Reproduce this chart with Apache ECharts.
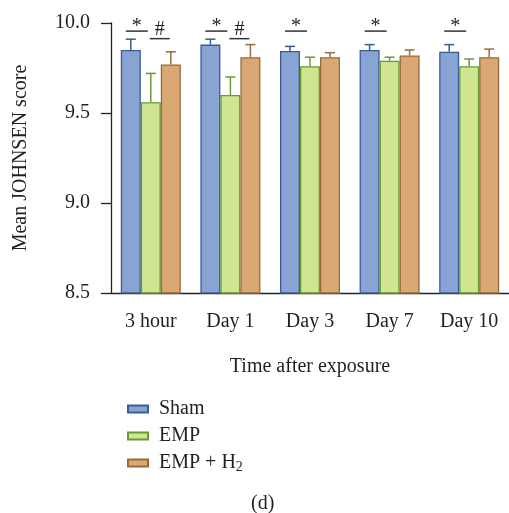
<!DOCTYPE html>
<html>
<head>
<meta charset="utf-8">
<script src="https://cdn.jsdelivr.net/npm/echarts@6/dist/echarts.min.js"></script>
<style>
  html, body { margin: 0; padding: 0; background: #fff; }
  #chart { width: 509px; height: 513px; }
</style>
</head>
<body>
<div id="chart"></div>
<script>
// 时间点
var categories = ["3 hour", "Day 1", "Day 3", "Day 7", "Day 10"];
// 均值
var shamMean = [9.85, 9.88, 9.845, 9.85, 9.84];
var empMean = [9.56, 9.60, 9.76, 9.79, 9.76];
var h2Mean = [9.77, 9.81, 9.81, 9.82, 9.81];
// 误差
var shamErr = [0.06, 0.03, 0.025, 0.03, 0.04];
var empErr = [0.16, 0.10, 0.05, 0.02, 0.04];
var h2Err = [0.07, 0.07, 0.025, 0.03, 0.045];
// 显著性标记
var starCats = ["3 hour", "Day 1", "Day 3", "Day 7", "Day 10"];
var hashCats = ["3 hour", "Day 1"];
var starLevel = 9.955;
var hashLevel = 9.913;
// 纵轴刻度
var yMin = 8.5, yMax = 10.0, yStep = 0.5;

var FONT = "Liberation Serif";
var FS = 20;
var TXT = "#231f20";

var groups = [
  { name: "Sham", mean: shamMean, err: shamErr, fill: "#87a4d4", line: "#3d5a96", off: -20 },
  { name: "EMP", mean: empMean, err: empErr, fill: "#cfe58f", line: "#6a9a35", off: 0 },
  { name: "EMP + H2", mean: h2Mean, err: h2Err, fill: "#d9a874", line: "#9a6a3a", off: 20 }
];

var series = [];
groups.forEach(function (g) {
  series.push({
    name: g.name,
    type: "bar",
    barWidth: 20,
    barGap: "0%",
    data: g.mean,
    itemStyle: { color: g.fill, borderColor: g.line, borderWidth: 1.3 },
    z: 2
  });
});
groups.forEach(function (g) {
  series.push({
    type: "custom",
    silent: true,
    z: 3,
    data: g.mean.map(function (m, i) { return [i, m, m + g.err[i]]; }),
    renderItem: function (params, api) {
      var lo = api.coord([api.value(0), api.value(1)]);
      var hi = api.coord([api.value(0), api.value(2)]);
      var x = lo[0] + g.off;
      var st = { stroke: g.line, lineWidth: 1.5 };
      return {
        type: "group",
        children: [
          { type: "line", shape: { x1: x, y1: lo[1], x2: x, y2: hi[1] }, style: st },
          { type: "line", shape: { x1: x - 5, y1: hi[1], x2: x + 5, y2: hi[1] }, style: st }
        ]
      };
    }
  });
});

function sigSeries(cats, level, mark, x1, x2, dy) {
  return {
    type: "custom",
    silent: true,
    z: 4,
    data: cats.map(function (c) { return [categories.indexOf(c), level]; }),
    renderItem: function (params, api) {
      var p = api.coord([api.value(0), api.value(1)]);
      return {
        type: "group",
        children: [
          { type: "line", shape: { x1: p[0] + x1, y1: p[1], x2: p[0] + x2, y2: p[1] },
            style: { stroke: "#333", lineWidth: 1.5 } },
          { type: "text", style: { text: mark, x: p[0] + (x1 + x2) / 2, y: p[1] + dy,
            align: "center", verticalAlign: "bottom", font: FS + "px " + FONT, fill: TXT } }
        ]
      };
    }
  };
}
series.push(sigSeries(starCats, starLevel, "*", -25, -3, 6));
series.push(sigSeries(hashCats, hashLevel, "#", -1, 19, 1));

var option = {
  animation: false,
  backgroundColor: "#fff",
  textStyle: { fontFamily: FONT, color: TXT },
  title: {
    text: "(d)",
    left: 251,
    top: 494,
    padding: 0,
    textStyle: { fontFamily: FONT, fontSize: FS, fontWeight: "normal", color: TXT }
  },
  legend: {
    orient: "vertical",
    left: 127,
    top: 399,
    padding: 0,
    itemWidth: 20,
    itemHeight: 7,
    itemGap: 7,
    icon: "rect",
    data: ["Sham", "EMP", "EMP + H2"],
    formatter: function (n) { return n === "EMP + H2" ? "EMP + H{sub|2}" : n; },
    textStyle: {
      fontFamily: FONT, fontSize: FS, color: TXT, padding: [0, 0, 0, 6],
      rich: { sub: { fontFamily: FONT, fontSize: 14, color: TXT, verticalAlign: "bottom", padding: [8, 0, 0, 0] } }
    }
  },
  grid: { left: 111, top: 23, width: 404, height: 270 },
  xAxis: {
    type: "category",
    data: categories,
    name: "Time after exposure",
    nameLocation: "middle",
    nameGap: 64,
    nameTextStyle: { fontFamily: FONT, fontSize: FS, color: TXT },
    axisLine: { lineStyle: { color: "#222", width: 1.3 } },
    axisTick: { alignWithLabel: true, length: 10, lineStyle: { color: "#222", width: 1.3 } },
    axisLabel: { fontFamily: FONT, fontSize: FS, color: TXT, margin: 19 }
  },
  yAxis: {
    type: "value",
    min: yMin,
    max: yMax,
    interval: yStep,
    name: "Mean JOHNSEN score",
    nameLocation: "middle",
    nameGap: 80,
    nameTextStyle: { fontFamily: FONT, fontSize: FS, color: TXT },
    axisLine: { show: true, lineStyle: { color: "#222", width: 1.3 } },
    axisTick: { show: true, length: 10, lineStyle: { color: "#222", width: 1.3 } },
    splitLine: { show: false },
    axisLabel: { fontFamily: FONT, fontSize: FS, color: TXT, margin: 21,
      formatter: function (v) { return v.toFixed(1); } }
  },
  series: series
};

var chart = echarts.init(document.getElementById("chart"));
chart.setOption(option);
</script>
</body>
</html>
